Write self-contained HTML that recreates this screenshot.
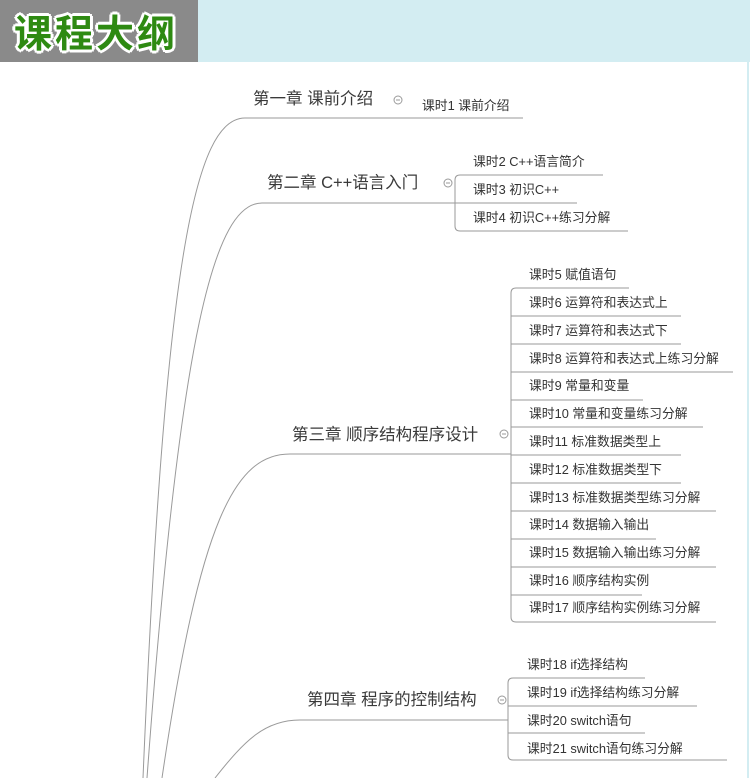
<!DOCTYPE html>
<html><head><meta charset="utf-8"><style>
*{margin:0;padding:0}
body{width:750px;height:778px;position:relative;background:#fff;overflow:hidden;font-family:"Liberation Sans","Noto Sans CJK SC",sans-serif;color:#333}
.hd{position:absolute;left:0;top:0;width:750px;height:62px;background:#d3edf2}
.gb{position:absolute;left:0;top:0;width:198px;height:62px;background:#8a8a8a}
.tt{position:absolute;left:14px;top:7px;font-size:38px;font-weight:bold;color:#2e8a12;letter-spacing:3px;font-family:"WenQuanYi Zen Hei","Noto Sans CJK SC",sans-serif;
text-shadow:3px 0 #fff,-3px 0 #fff,0 3px #fff,0 -3px #fff,2px 2px #fff,-2px -2px #fff,2px -2px #fff,-2px 2px #fff;line-height:48px}
.t{position:absolute;white-space:nowrap;line-height:1}
.c{font-size:16.5px;color:#3a3a3a}
.l{font-size:12.8px}
svg{position:absolute;left:0;top:0}
</style></head><body>
<div class="hd"></div><div class="gb"></div><div class="tt">课程大纲</div>
<svg width="750" height="778" fill="none" stroke="#9a9a9a" stroke-width="1">
<line x1="748" y1="62" x2="748" y2="778" stroke="#d3edf2" stroke-width="2"/>
<path d="M143,778 C165,260 195,118 245,118 L523,118"/>
<path d="M147,778 C180,330 215,203 262,203 L455,203"/>
<path d="M162,778 C200,520 235,454 290,454 L511,454"/>
<path d="M215,778 C245,740 265,720 300,720 L508,720"/>
<path d="M603,175 L460,175 Q455,175 455,180 L455,226 Q455,231 460,231 L628,231"/>
<path d="M455,203 L577,203"/>
<path d="M629,288 L516,288 Q511,288 511,293 L511,617 Q511,622 516,622 L716,622"/>
<path d="M511,316H681M511,344H681M511,372H733M511,400H643M511,427H703M511,455H681M511,483H681M511,511H716M511,539H656M511,567H716M511,595H642"/>
<path d="M645,678 L513,678 Q508,678 508,683 L508,755 Q508,760 513,760 L727,760"/>
<path d="M508,706H697M508,733H645"/>
<circle cx="398" cy="100" r="4"/><circle cx="448" cy="183" r="4"/><circle cx="504" cy="434" r="4"/><circle cx="502" cy="700" r="4"/>
<path d="M396,100h4M446,183h4M502,434h4M500,700h4"/>
</svg>
<div class="t c" style="left:253px;top:91px">第一章 课前介绍</div>
<div class="t l" style="left:422px;top:100px">课时1 课前介绍</div>
<div class="t c" style="left:267px;top:175px">第二章 C++语言入门</div>
<div class="t l" style="left:473px;top:156px">课时2 C++语言简介</div>
<div class="t l" style="left:473px;top:184px">课时3 初识C++</div>
<div class="t l" style="left:473px;top:212px">课时4 初识C++练习分解</div>
<div class="t c" style="left:292px;top:427px">第三章 顺序结构程序设计</div>
<div class="t l" style="left:529px;top:269px">课时5 赋值语句</div>
<div class="t l" style="left:529px;top:297px">课时6 运算符和表达式上</div>
<div class="t l" style="left:529px;top:325px">课时7 运算符和表达式下</div>
<div class="t l" style="left:529px;top:353px">课时8 运算符和表达式上练习分解</div>
<div class="t l" style="left:529px;top:380px">课时9 常量和变量</div>
<div class="t l" style="left:529px;top:408px">课时10 常量和变量练习分解</div>
<div class="t l" style="left:529px;top:436px">课时11 标准数据类型上</div>
<div class="t l" style="left:529px;top:464px">课时12 标准数据类型下</div>
<div class="t l" style="left:529px;top:492px">课时13 标准数据类型练习分解</div>
<div class="t l" style="left:529px;top:519px">课时14 数据输入输出</div>
<div class="t l" style="left:529px;top:547px">课时15 数据输入输出练习分解</div>
<div class="t l" style="left:529px;top:575px">课时16 顺序结构实例</div>
<div class="t l" style="left:529px;top:602px">课时17 顺序结构实例练习分解</div>
<div class="t c" style="left:307px;top:692px">第四章 程序的控制结构</div>
<div class="t l" style="left:527px;top:659px">课时18 if选择结构</div>
<div class="t l" style="left:527px;top:687px">课时19 if选择结构练习分解</div>
<div class="t l" style="left:527px;top:715px">课时20 switch语句</div>
<div class="t l" style="left:527px;top:743px">课时21 switch语句练习分解</div>
</body></html>
